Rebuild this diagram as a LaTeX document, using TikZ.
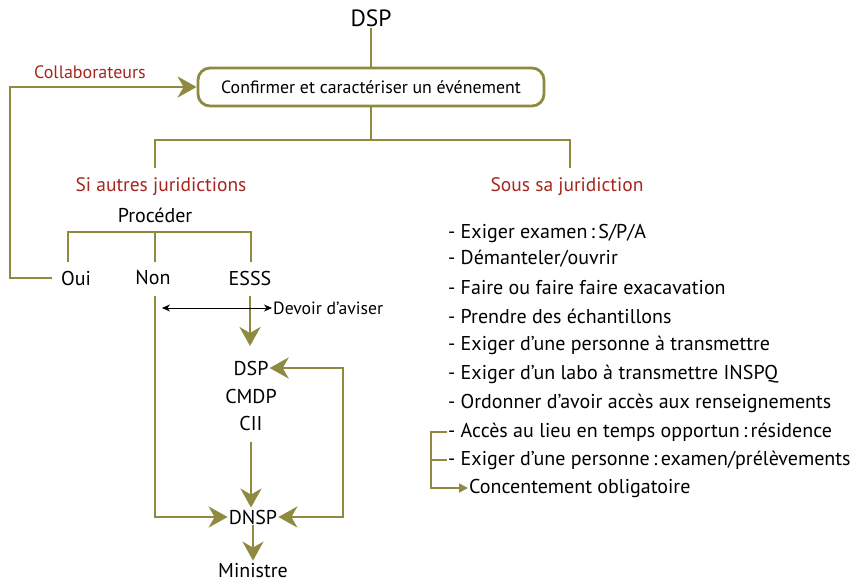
\documentclass[tikz,border=0pt]{standalone}
\usepackage{fontspec}
\setmainfont{PT Sans}
\usepackage{tikz}
\usetikzlibrary{positioning,arrows.meta}
\definecolor{olive}{HTML}{8F8A3F}
\definecolor{rouge}{HTML}{A6261E}
\tikzstyle{lbl} = [inner sep=1pt, font=\fontsize{20}{24}\selectfont]
\tikzstyle{titre} = [lbl, text=rouge, font=\fontsize{19.5}{23}\selectfont]
\tikzstyle{item} = [lbl, anchor=west]
\tikzstyle{boite} = [rectangle, rounded corners=12pt, minimum width=346pt, minimum height=38pt, text centered, draw=olive, line width=2.8pt, font=\fontsize{17.8}{21}\selectfont]
\tikzstyle{trait} = [olive, line width=2.8pt]
\tikzstyle{connect} = [olive, line width=2.8pt, -{Stealth[length=19pt,width=21pt,inset=6pt]}]
\tikzstyle{fin} = [olive, line width=1.8pt]
\tikzstyle{aviser} = [black, line width=0.9pt, {Stealth[length=8pt,width=7pt]}-{Stealth[length=8pt,width=7pt]}]

\begin{document}
\begin{tikzpicture}[x=1pt, y=-1pt]
			\useasboundingbox (0,0) rectangle (856,584);
			% haut
			\node (dsp0) [lbl, font=\fontsize{23.5}{27}\selectfont] at (371,18) {DSP};
			\node (conf) [boite] at (371,87) {Confirmer et caractériser un événement};
			\node (collab) [titre, font=\fontsize{18}{21}\selectfont] at (90,72) {Collaborateurs};
			\node (autres) [titre] at (161,187) {Si autres juridictions};
			\node (sous) [titre] at (567,187) {Sous sa juridiction};

			% gauche
			\node (proc) [lbl] at (155,215) {Procéder};
			\node (oui) [lbl] at (76,278) {Oui};
			\node (non) [lbl] at (153,278) {Non};
			\node (esss) [lbl] at (250,278) {ESSS};
			\node (dsp) [lbl] at (251,368) {DSP};
			\node (cmdp) [lbl] at (251,396) {CMDP};
			\node (cii) [lbl] at (251,423) {CII};
			\node (dnsp) [lbl] at (253,517) {DNSP};
			\node (min) [lbl] at (253,571) {Ministre};
			\node (devoir) [item, font=\fontsize{17.7}{21}\selectfont] at (272,308) {Devoir d’aviser};
			\coordinate (av1) at (162,308);
			\coordinate (boucle) at (343,443);

			% liste
			\node (l1) [item] at (447,233) {- Exiger examen\,:\,S/P/A};
			\node (l2) [item] at (447,259) {- Démanteler/ouvrir};
			\node (l3) [item] at (447,288) {- Faire ou faire faire exacavation};
			\node (l4) [item] at (447,316) {- Prendre des échantillons};
			\node (l5) [item] at (447,345) {- Exiger d’une personne à transmettre};
			\node (l6) [item] at (447,374) {- Exiger d’un labo à transmettre INSPQ};
			\node (l7) [item] at (447,403) {- Ordonner d’avoir accès aux renseignements};
			\node (l8) [item] at (447,432) {- Accès au lieu en temps opportun\,:\,résidence};
			\node (l9) [item] at (447,460) {- Exiger d’une personne\,:\,examen/prélèvements};
			\node (l10) [item] at (468,488) {Concentement obligatoire};

			\draw [trait] (dsp0) -- (conf);
			\draw [trait] (conf.south) -- (371,140) -| (155,168);
			\draw [trait] (371,140) -| (570,168);
			\draw [trait] (68,262) |- (251,232) -- (251,262);
			\draw [trait] (155,232) -- (155,262);
			\draw [connect, shorten <=8pt] (oui.west) -- (10,278) |- (conf.west);
			\draw [connect] (155,296) |- (dnsp.west);
			\draw [connect] (250,296) -- (250,346);
			\draw [connect, shorten <=11pt, shorten >=1pt] (cii.south) -- (cii.south |- dnsp.north);
			\draw [connect, shorten >=2pt] (dnsp.south) -- (min.north);
			\draw [connect] (boucle) |- (dsp.east);
			\draw [connect] (boucle) |- (dnsp.east);
			\draw [aviser] (av1) -- (devoir.west);
			\draw [fin] (l8.west) -- (431,432) |- (l9.west);
			\draw [fin, -{Triangle[length=9pt,width=9pt]}] (431,460) |- (l10.west);
\end{tikzpicture}
\end{document}
